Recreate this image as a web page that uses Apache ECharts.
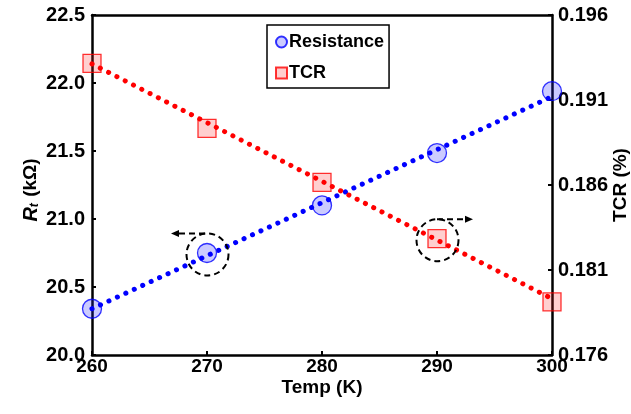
<!DOCTYPE html>
<html>
<head>
<meta charset="utf-8">
<script src="https://cdn.jsdelivr.net/npm/echarts@6/dist/echarts.min.js"></script>
<style>html,body{margin:0;padding:0;background:#fff;}#c{width:631px;height:414px;}</style>
</head>
<body>
<div id="c"></div>
<script>
// ---- data ----
var temps = [260, 270, 280, 290, 300];
var resistance = [20.34, 20.75, 21.10, 21.485, 21.94];   // kOhm (left axis)
var tcr = [0.19316, 0.18933, 0.18616, 0.18284, 0.17912];   // % (right axis)
var fitTemps = [260, 300];
var resistanceFit = [20.34, 21.90];
var tcrFit = [0.19312, 0.17931];
var xTicks = {min: 260, max: 300, step: 10};
var leftTicks = {min: 20.0, max: 22.5, step: 0.5};
var rightTicks = {min: 0.176, max: 0.196, step: 0.005};

function pairs(xs, ys) { return xs.map(function (x, i) { return [x, ys[i]]; }); }

var FONT = '"Liberation Sans", Arial, sans-serif';
var chart = echarts.init(document.getElementById('c'), null, {renderer: 'canvas'});

var axisLine = {show: true, lineStyle: {color: '#000', width: 2.5}};
var option = {
  backgroundColor: '#fff',
  animation: false,
  textStyle: {fontFamily: FONT},
  grid: {left: 92, right: 79, top: 15, bottom: 59, containLabel: false, outerBoundsMode: 'none'},
  legend: {
    data: ['Resistance', 'TCR'],
    orient: 'vertical',
    left: 267, top: 25,
    padding: [8, 5, 6, 8],
    itemGap: 13,
    itemWidth: 11, itemHeight: 11,
    backgroundColor: '#fff',
    borderColor: '#000', borderWidth: 1.5, borderRadius: 0,
    textStyle: {fontFamily: FONT, fontWeight: 'bold', fontSize: 18, color: '#000', padding: [0, 0, 0, -3]}
  },
  xAxis: [{
    type: 'value', min: xTicks.min, max: xTicks.max, interval: xTicks.step,
    name: 'Temp (K)', nameLocation: 'middle', nameGap: 23, nameMoveOverlap: false,
    nameTextStyle: {fontFamily: FONT, fontWeight: 'bold', fontSize: 19, color: '#000'},
    axisLine: axisLine,
    axisTick: {show: true, inside: true, length: 4, lineStyle: {color: '#000', width: 2}},
    axisLabel: {fontFamily: FONT, fontWeight: 'bold', fontSize: 19, color: '#000', margin: 2},
    splitLine: {show: false}
  }, {
    type: 'value', position: 'top', min: xTicks.min, max: xTicks.max, interval: xTicks.step,
    axisLine: axisLine, axisTick: {show: false}, axisLabel: {show: false}, splitLine: {show: false}
  }],
  yAxis: [{
    type: 'value', position: 'left', min: leftTicks.min, max: leftTicks.max, interval: leftTicks.step,
    name: '{r|R}{s|t} (kΩ)', nameLocation: 'middle', nameGap: 51, nameRotate: 90, nameMoveOverlap: false,
    nameTextStyle: {
      fontFamily: FONT, fontWeight: 'bold', fontSize: 19, color: '#000', padding: [0, 10, 0, 0],
      rich: {
        r: {fontFamily: FONT, fontWeight: 'bold', fontStyle: 'italic', fontSize: 20, color: '#000'},
        s: {fontFamily: FONT, fontWeight: 'bold', fontStyle: 'italic', fontSize: 12, color: '#000', verticalAlign: 'bottom', padding: [6, 1, 0, 0]}
      }
    },
    axisLine: axisLine,
    axisTick: {show: true, inside: true, length: 4, lineStyle: {color: '#000', width: 2}},
    axisLabel: {fontFamily: FONT, fontWeight: 'bold', fontSize: 20, color: '#000', margin: 7,
      formatter: function (v) { return v.toFixed(1); }},
    splitLine: {show: false}
  }, {
    type: 'value', position: 'right', min: rightTicks.min, max: rightTicks.max, interval: rightTicks.step,
    name: 'TCR (%)', nameLocation: 'middle', nameGap: 59, nameRotate: 90, nameMoveOverlap: false,
    nameTextStyle: {fontFamily: FONT, fontWeight: 'bold', fontSize: 19, color: '#000'},
    axisLine: axisLine,
    axisTick: {show: true, inside: true, length: 4, lineStyle: {color: '#000', width: 2}},
    axisLabel: {fontFamily: FONT, fontWeight: 'bold', fontSize: 20, color: '#000', margin: 6,
      formatter: function (v) { return v.toFixed(3); }},
    splitLine: {show: false}
  }],
  series: [{
    name: 'Resistance', type: 'scatter', xAxisIndex: 0, yAxisIndex: 0,
    symbol: 'circle', symbolSize: 19, z: 2,
    itemStyle: {color: 'rgba(40,40,255,0.30)', borderColor: '#0000ff', borderWidth: 1.3},
    data: pairs(temps, resistance)
  }, {
    name: 'TCR', type: 'scatter', xAxisIndex: 0, yAxisIndex: 1,
    symbol: 'rect', symbolSize: 18, z: 2,
    itemStyle: {color: 'rgba(255,40,40,0.28)', borderColor: '#ff0000', borderWidth: 1.3},
    data: pairs(temps, tcr)
  }, {
    name: 'Resistance fit', type: 'line', xAxisIndex: 0, yAxisIndex: 0,
    showSymbol: false, symbol: 'none', z: 3, silent: true,
    lineStyle: {color: '#0000ff', width: 5, type: [0.1, 9.2], cap: 'round'},
    data: pairs(fitTemps, resistanceFit)
  }, {
    name: 'TCR fit', type: 'line', xAxisIndex: 0, yAxisIndex: 1,
    showSymbol: false, symbol: 'none', z: 3, silent: true,
    lineStyle: {color: '#ff0000', width: 5, type: [0.1, 9.2], cap: 'round'},
    data: pairs(fitTemps, tcrFit)
  }]
};
chart.setOption(option);

// ---- dashed annotation circles + arrows, placed from data coordinates ----
var pB = chart.convertToPixel({xAxisIndex: 0, yAxisIndex: 0}, [temps[1], resistance[1]]);
var pR = chart.convertToPixel({xAxisIndex: 0, yAxisIndex: 1}, [temps[3], tcr[3]]);
var dash = {stroke: '#000', lineWidth: 2, lineDash: [6, 4], fill: null};
var R = 21;
function ring(c) { return {type: 'circle', shape: {cx: c[0] + 0.5, cy: c[1] + 1.5, r: R}, style: dash, z: 10}; }
var bTop = pB[1] + 1.5 - R, rTop = pR[1] + 1.5 - R;
var graphics = [
  ring(pB), ring(pR),
  {type: 'polyline', shape: {points: [[pB[0] - 2, bTop], [pB[0] - 29, bTop]]}, style: {stroke: '#000', lineWidth: 2, lineDash: [6, 4]}, z: 10},
  {type: 'polygon', shape: {points: [[pB[0] - 36, bTop], [pB[0] - 28, bTop - 3.5], [pB[0] - 28, bTop + 3.5]]}, style: {fill: '#000'}, z: 10},
  {type: 'polyline', shape: {points: [[pR[0], rTop], [pR[0] + 29, rTop]]}, style: {stroke: '#000', lineWidth: 2, lineDash: [6, 4]}, z: 10},
  {type: 'polygon', shape: {points: [[pR[0] + 36, rTop], [pR[0] + 28, rTop - 3.5], [pR[0] + 28, rTop + 3.5]]}, style: {fill: '#000'}, z: 10}
];
chart.setOption({graphic: graphics});
</script>
</body>
</html>
